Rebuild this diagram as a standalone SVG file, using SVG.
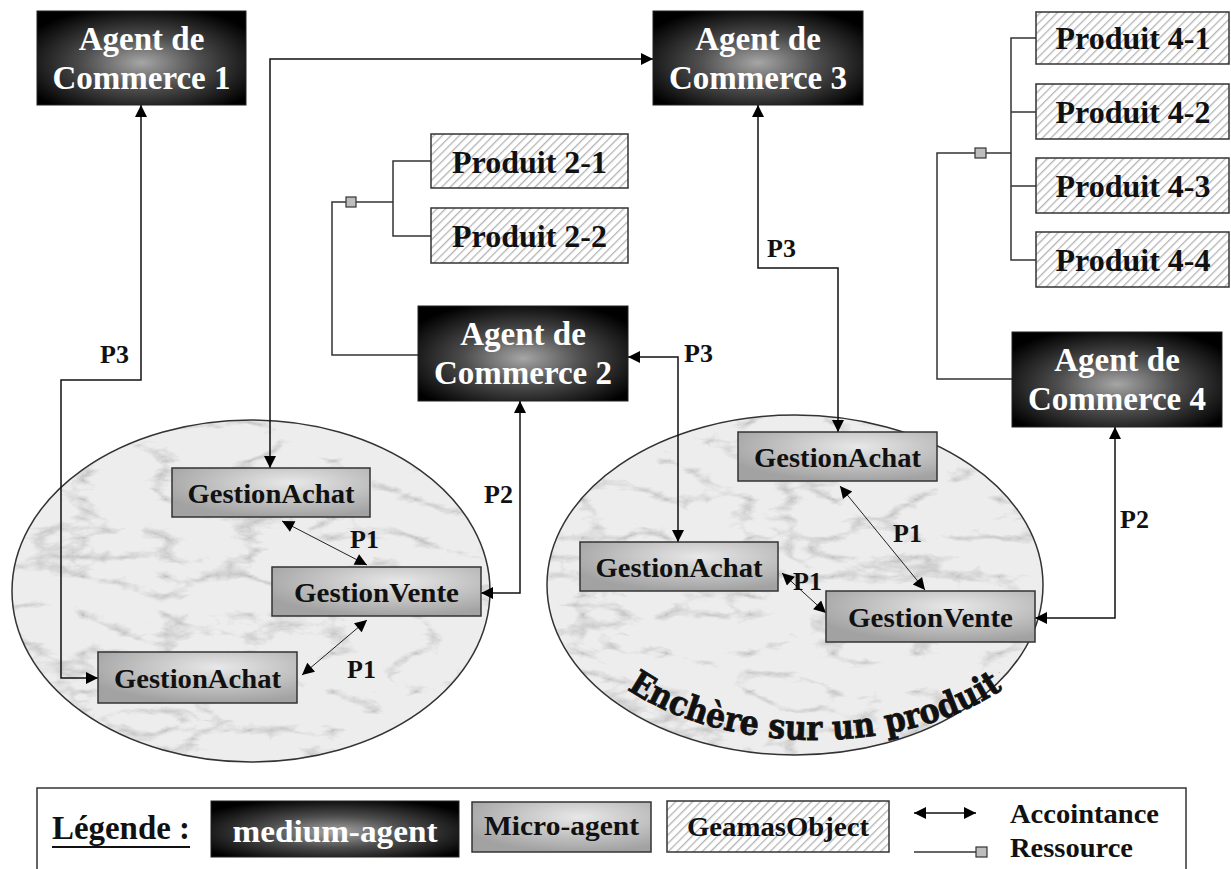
<svg xmlns="http://www.w3.org/2000/svg" width="1231" height="869" viewBox="0 0 1231 869">
<style>
.t{font-family:"Liberation Serif","Times New Roman",serif;font-weight:bold}
.agent rect{fill:url(#gAgent);stroke:#222;stroke-width:1}
.agent text{fill:#fff;font-size:33px;text-anchor:middle}
.micro rect{fill:url(#gMicro);stroke:#333;stroke-width:1.5}
.micro text{fill:#111;font-size:28px;text-anchor:middle}
.obj rect{fill:url(#hatch);stroke:#333;stroke-width:1.5}
.obj text{fill:#111;font-size:32px;text-anchor:middle}
.acc{fill:none;stroke:#111;stroke-width:1.5;marker-start:url(#ah);marker-end:url(#ah)}
.p1{fill:none;stroke:#222;stroke-width:1;marker-start:url(#ah);marker-end:url(#ah)}
.res{fill:none;stroke:#333;stroke-width:1.5}
.sq{fill:#bdbdbd;stroke:#333;stroke-width:1.2}
.lbl{fill:#111;font-size:26px}
.zone{fill:#ededed}
.zoneEdge{fill:none;stroke:#333;stroke-width:1.5}
</style>
<defs>
<radialGradient id="gAgent" cx="50%" cy="55%" r="62%">
<stop offset="0" stop-color="#a6a6a6"/>
<stop offset="0.45" stop-color="#4e4e4e"/>
<stop offset="1" stop-color="#000"/>
</radialGradient>
<radialGradient id="gMicro" cx="60%" cy="30%" r="70%">
<stop offset="0" stop-color="#e8e8e8"/>
<stop offset="1" stop-color="#a2a2a2"/>
</radialGradient>
<pattern id="hatch" width="6" height="6" patternUnits="userSpaceOnUse" patternTransform="rotate(45)">
<rect width="6" height="6" fill="#fff"/>
<line x1="0" y1="0" x2="0" y2="6" stroke="#b4b4b4" stroke-width="2.6"/>
</pattern>
<marker id="ah" viewBox="0 0 10 10" refX="10" refY="5" markerWidth="14" markerHeight="12" markerUnits="userSpaceOnUse" orient="auto-start-reverse">
<path d="M0,0 L10,5 L0,10 z" fill="#000"/>
</marker>
<filter id="marble" x="0" y="0" width="1" height="1">
<feTurbulence type="turbulence" baseFrequency="0.012 0.026" numOctaves="5" seed="11" result="n"/>
<feColorMatrix in="n" type="matrix" values="0 0 0 0 0.45  0 0 0 0 0.45  0 0 0 0 0.45  -3 0 0 0 0.8" result="v"/>
<feComposite in="v" in2="SourceGraphic" operator="atop"/>
</filter>
<path id="arcText" d="M 565 590 A 250 150 0 0 0 1065 590"/>
</defs>
<rect width="1231" height="869" fill="#fff"/>

<g id="zone-left">
<ellipse class="zone" cx="251" cy="591" rx="239" ry="171" filter="url(#marble)"/>
<ellipse class="zoneEdge" cx="251" cy="591" rx="239" ry="171"/>
</g>
<g id="zone-right">
<ellipse class="zone" cx="795" cy="585" rx="248" ry="170" filter="url(#marble)"/>
<ellipse class="zoneEdge" cx="795" cy="585" rx="248" ry="170"/>
<text font-family="'DejaVu Serif','Liberation Serif',serif" font-size="34" font-weight="bold" fill="#111" stroke="#111" stroke-width="0.8"><textPath href="#arcText" startOffset="50%" text-anchor="middle" textLength="395" lengthAdjust="spacingAndGlyphs">Enchère sur un produit</textPath></text>
</g>

<g id="connectors">
<path class="acc" d="M141,105 V380 H61 V678 H98"/>
<path class="acc" d="M653,59 H270 V468"/>
<path class="acc" d="M758,105 V268 H838 V432"/>
<path class="acc" d="M628,357 H678 V542"/>
<path class="acc" d="M520,401 V593 H481"/>
<path class="acc" d="M1115,427 V618 H1035"/>
<path class="p1" d="M282,521 L367,565"/>
<path class="p1" d="M367,620 L302,675"/>
<path class="p1" d="M840,486 L925,590"/>
<path class="p1" d="M782,573 L826,613"/>
<path class="res" d="M418,355 H332 V202 H346"/>
<path class="res" d="M356,202 H393"/>
<path class="res" d="M431,161 H393 V236 H431"/>
<rect class="sq" x="346" y="197" width="10" height="10"/>
<path class="res" d="M1012,379 H937 V153 H975"/>
<path class="res" d="M986,153 H1011"/>
<path class="res" d="M1036,38 H1011 V260 H1036 M1011,112 H1036 M1011,186 H1036"/>
<rect class="sq" x="975" y="148" width="11" height="10"/>
<text class="t lbl" x="100" y="363">P3</text>
<text class="t lbl" x="767" y="257">P3</text>
<text class="t lbl" x="684" y="362">P3</text>
<text class="t lbl" x="484" y="503">P2</text>
<text class="t lbl" x="1120" y="528">P2</text>
<text class="t lbl" x="350" y="548">P1</text>
<text class="t lbl" x="347" y="678">P1</text>
<text class="t lbl" x="893" y="542">P1</text>
<text class="t lbl" x="793" y="590">P1</text>
</g>

<g id="agent1" class="agent"><rect x="37" y="11" width="209" height="94"/><text class="t" x="141.5" y="50">Agent de</text><text class="t" x="141.5" y="89">Commerce 1</text></g>
<g id="agent3" class="agent"><rect x="653" y="11" width="210" height="94"/><text class="t" x="758" y="50">Agent de</text><text class="t" x="758" y="89">Commerce 3</text></g>
<g id="agent2" class="agent"><rect x="418" y="306" width="210" height="95"/><text class="t" x="523" y="345">Agent de</text><text class="t" x="523" y="384">Commerce 2</text></g>
<g id="agent4" class="agent"><rect x="1012" y="332" width="210" height="95"/><text class="t" x="1117" y="371">Agent de</text><text class="t" x="1117" y="410">Commerce 4</text></g>

<g id="produit2-1" class="obj"><rect x="431" y="134" width="197" height="54"/><text class="t" x="529.5" y="173">Produit 2-1</text></g>
<g id="produit2-2" class="obj"><rect x="431" y="208" width="197" height="55"/><text class="t" x="529.5" y="247">Produit 2-2</text></g>
<g id="produit4-1" class="obj"><rect x="1036" y="12" width="193" height="52"/><text class="t" x="1133" y="49">Produit 4-1</text></g>
<g id="produit4-2" class="obj"><rect x="1036" y="84" width="193" height="55"/><text class="t" x="1133" y="123">Produit 4-2</text></g>
<g id="produit4-3" class="obj"><rect x="1036" y="158" width="193" height="55"/><text class="t" x="1133" y="197">Produit 4-3</text></g>
<g id="produit4-4" class="obj"><rect x="1036" y="232" width="193" height="55"/><text class="t" x="1133" y="271">Produit 4-4</text></g>

<g id="gestionAchat1" class="micro"><rect x="172" y="468" width="198" height="49"/><text class="t" x="271" y="503" textLength="167" lengthAdjust="spacingAndGlyphs">GestionAchat</text></g>
<g id="gestionVente1" class="micro"><rect x="272" y="567" width="209" height="49"/><text class="t" x="376.5" y="602" textLength="165" lengthAdjust="spacingAndGlyphs">GestionVente</text></g>
<g id="gestionAchat2" class="micro"><rect x="98" y="652" width="199" height="51"/><text class="t" x="197.5" y="688" textLength="167" lengthAdjust="spacingAndGlyphs">GestionAchat</text></g>
<g id="gestionAchat3" class="micro"><rect x="580" y="542" width="198" height="49"/><text class="t" x="679" y="577" textLength="167" lengthAdjust="spacingAndGlyphs">GestionAchat</text></g>
<g id="gestionAchat4" class="micro"><rect x="738" y="432" width="199" height="49"/><text class="t" x="837.5" y="467" textLength="167" lengthAdjust="spacingAndGlyphs">GestionAchat</text></g>
<g id="gestionVente2" class="micro"><rect x="826" y="591" width="209" height="51"/><text class="t" x="930.5" y="627" textLength="165" lengthAdjust="spacingAndGlyphs">GestionVente</text></g>

<g id="legende">
<rect x="37" y="788" width="1149" height="100" fill="#fff" stroke="#333" stroke-width="1.5"/>
<text class="t" x="52" y="839" font-size="33" fill="#111" textLength="138" lengthAdjust="spacingAndGlyphs">Légende :</text>
<line x1="52" y1="847" x2="190" y2="847" stroke="#111" stroke-width="2"/>
<g class="agent"><rect x="211" y="801" width="248" height="56"/><text class="t" x="335" y="842" style="font-size:32px" textLength="205" lengthAdjust="spacingAndGlyphs">medium-agent</text></g>
<g class="micro"><rect x="472" y="802" width="179" height="50"/><text class="t" x="561.5" y="835" style="font-size:28px" textLength="155" lengthAdjust="spacingAndGlyphs">Micro-agent</text></g>
<g class="obj"><rect x="667" y="801" width="222" height="51"/><text class="t" x="778" y="836" style="font-size:28px" textLength="182" lengthAdjust="spacingAndGlyphs">GeamasObject</text></g>
<line class="acc" x1="914" y1="813" x2="976" y2="813"/>
<text class="t" x="1010" y="823" font-size="28" fill="#111" textLength="149" lengthAdjust="spacingAndGlyphs">Accointance</text>
<line class="res" x1="914" y1="852" x2="976" y2="852"/>
<rect class="sq" x="976" y="847" width="11" height="10"/>
<text class="t" x="1010" y="857" font-size="28" fill="#111" textLength="123" lengthAdjust="spacingAndGlyphs">Ressource</text>
</g>
</svg>
